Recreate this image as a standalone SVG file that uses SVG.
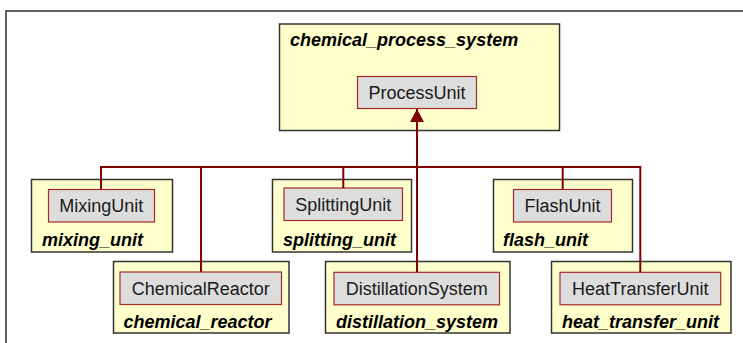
<svg xmlns="http://www.w3.org/2000/svg" width="743" height="343" viewBox="0 0 743 343">
<defs>
<style>
.frame{fill:#ffffff;stroke:#333333;stroke-width:1.5}
.pkg{fill:#ffffcc;stroke:#333333;stroke-width:1.5}
.cls{fill:#dddddd;stroke:#a52a2a;stroke-width:1.2}
.ct{font-family:"Liberation Sans",Arial,sans-serif;font-size:18px;fill:#1a1a1a;text-anchor:middle}
.pt{font-family:"Liberation Sans",Arial,sans-serif;font-size:18px;font-weight:bold;font-style:italic;fill:#000000}
.conn{fill:none;stroke:#800000;stroke-width:2}
</style>
<marker id="tri" viewBox="0 0 13 14" refX="13" refY="7" markerWidth="13" markerHeight="14" markerUnits="userSpaceOnUse" orient="auto">
<path d="M0,0 L13,7 L0,14 Z" fill="#800000"/>
</marker>
</defs>
<rect class="frame" x="6" y="11" width="800" height="400"/>
<g id="chemical_process_system">
<rect class="pkg" x="279.5" y="24" width="280" height="106.5"/>
<text class="pt" x="290" y="46">chemical_process_system</text>
<g id="ProcessUnit">
<rect class="cls" x="357.5" y="76.5" width="119" height="32"/>
<text class="ct" x="417" y="99">ProcessUnit</text>
</g>
</g>
<g id="mixing_unit">
<rect class="pkg" x="31.5" y="179.5" width="141" height="72.5"/>
<rect class="cls" x="48.5" y="189.5" width="106" height="32.5"/>
<text class="ct" x="101.3" y="212">MixingUnit</text>
<text class="pt" x="42" y="246">mixing_unit</text>
</g>
<g id="splitting_unit">
<rect class="pkg" x="272.5" y="179.5" width="139" height="72.5"/>
<rect class="cls" x="284" y="188" width="118.5" height="32.5"/>
<text class="ct" x="343.3" y="210.8">SplittingUnit</text>
<text class="pt" x="283" y="246">splitting_unit</text>
</g>
<g id="flash_unit">
<rect class="pkg" x="493.5" y="179.5" width="139" height="72.5"/>
<rect class="cls" x="513.5" y="189.5" width="98" height="32.5"/>
<text class="ct" x="562.5" y="212">FlashUnit</text>
<text class="pt" x="503" y="246">flash_unit</text>
</g>
<g id="chemical_reactor">
<rect class="pkg" x="113.5" y="261.5" width="175.5" height="71.5"/>
<rect class="cls" x="120" y="272" width="161.5" height="32.5"/>
<text class="ct" x="200.8" y="294.5">ChemicalReactor</text>
<text class="pt" x="123.5" y="328">chemical_reactor</text>
</g>
<g id="distillation_system">
<rect class="pkg" x="325.5" y="261.5" width="184.5" height="71.5"/>
<rect class="cls" x="334" y="272.3" width="165.5" height="32.5"/>
<text class="ct" x="416.8" y="294.5">DistillationSystem</text>
<text class="pt" x="336" y="328">distillation_system</text>
</g>
<g id="heat_transfer_unit">
<rect class="pkg" x="551.5" y="261.5" width="179.5" height="71.5"/>
<rect class="cls" x="560" y="272.3" width="160.7" height="32.5"/>
<text class="ct" x="640.3" y="294.5">HeatTransferUnit</text>
<text class="pt" x="562" y="328">heat_transfer_unit</text>
</g>
<g id="connectors">
<path class="conn" d="M101,189.5 V167 H640.3 V272.3"/>
<path class="conn" d="M201,167 V272"/>
<path class="conn" d="M343.3,167 V188"/>
<path class="conn" d="M562.7,167 V189.5"/>
<path class="conn" d="M417,272.3 V109" marker-end="url(#tri)"/>
</g>
</svg>
